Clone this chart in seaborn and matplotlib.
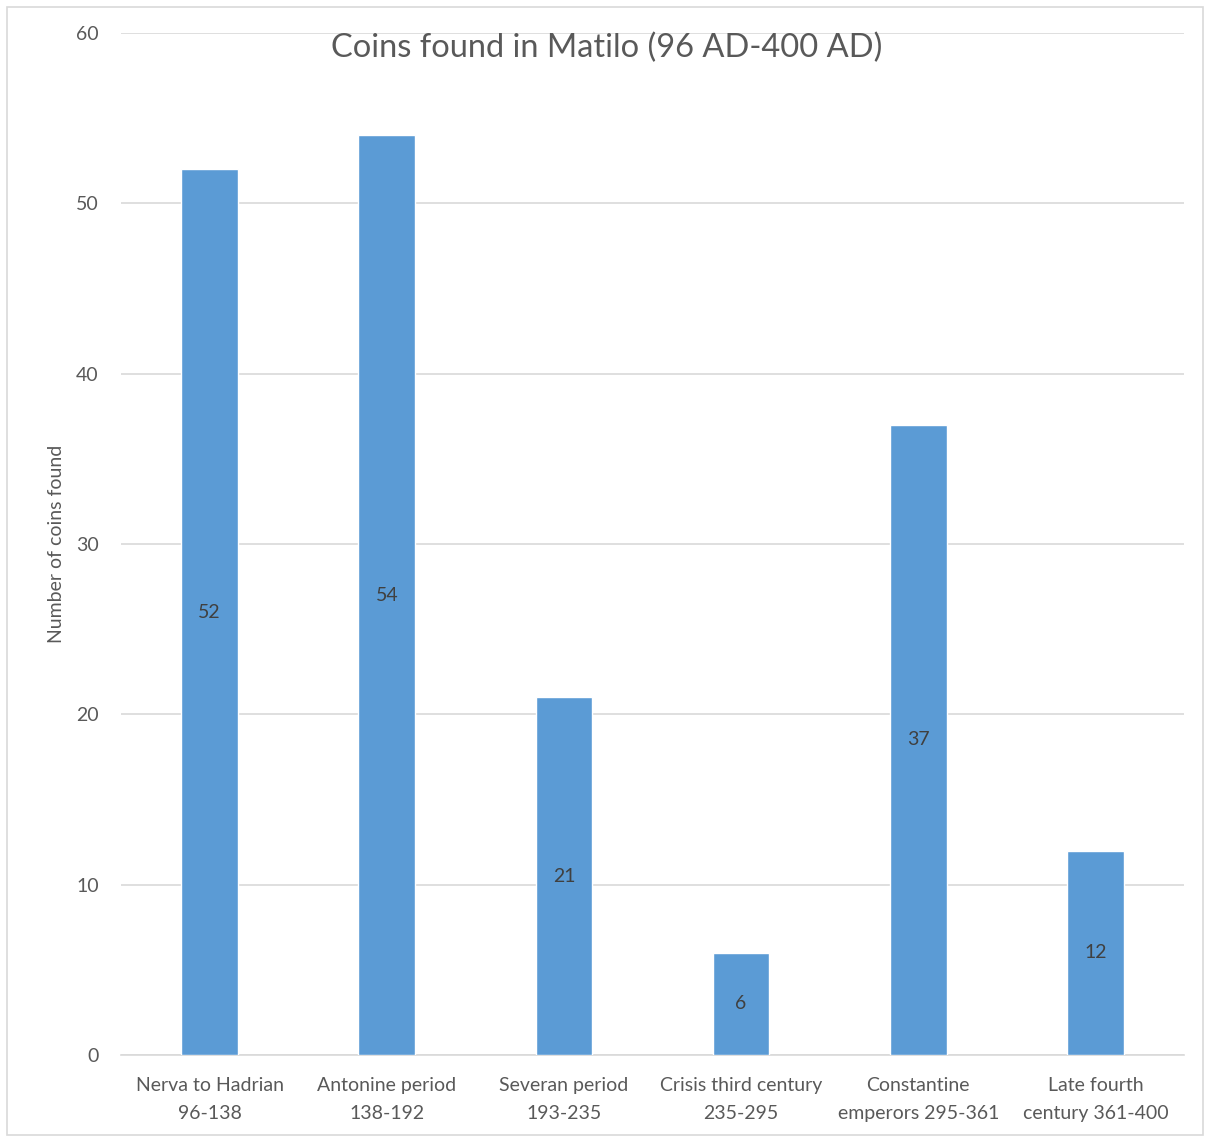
import matplotlib
matplotlib.use("Agg")
import matplotlib.pyplot as plt
import seaborn as sns
import pandas as pd
from matplotlib.patches import Rectangle

categories = ["Nerva to Hadrian\n96-138", "Antonine period\n138-192", "Severan period\n193-235",
              "Crisis third century\n235-295", "Constantine\nemperors 295-361", "Late fourth\ncentury 361-400"]
coins = [52, 54, 21, 6, 37, 12]
yticks = [0, 10, 20, 30, 40, 50, 60]

sns.set_theme(style="white")
plt.rcParams['font.family'] = ['Lato', 'DejaVu Sans']

df = pd.DataFrame({"period": categories, "coins": coins})

fig = plt.figure(figsize=(12.07, 11.37), dpi=100)
ax = fig.add_axes([121/1207, 82/1137, (1184-121)/1207, (1055-33)/1137])

sns.barplot(data=df, x="period", y="coins", color="#5B9BD5", saturation=1, width=0.32, ax=ax, zorder=3)

ax.set_ylim(0, 60)
ax.set_xlim(-0.5, 5.5)
ax.set_yticks(yticks)
ax.set_yticklabels([str(t) for t in yticks])
ax.yaxis.grid(True, color="#D9D9D9", linewidth=1.2, zorder=0)
ax.set_axisbelow(True)
for s in ["top", "right", "left"]:
    ax.spines[s].set_visible(False)
ax.spines["bottom"].set_color("#D9D9D9")
ax.spines["bottom"].set_linewidth(1.2)
ax.tick_params(axis="both", length=0, colors="#595959", labelsize=14)
ax.tick_params(axis="y", pad=16)
ax.tick_params(axis="x", pad=16)
for lbl in ax.get_xticklabels():
    lbl.set_linespacing(1.75)
ax.set_xlabel("")
ax.set_ylabel("Number of coins found", color="#595959", fontsize=14)
ax.yaxis.set_label_coords(-0.053, 0.5)

for i, v in enumerate(coins):
    ax.text(i, v / 2, str(v), ha="center", va="center", color="#404040", fontsize=14, zorder=4)

fig.text(607/1207, 1 - 48/1137, "Coins found in Matilo (96 AD-400 AD)", ha="center", va="center",
         color="#595959", fontsize=23.5)

fig.patches.append(Rectangle((7/1207, 2/1137), 1196/1207, 1128/1137, transform=fig.transFigure,
                             fill=False, edgecolor="#D9D9D9", linewidth=1.2))

fig.savefig("out.png", dpi=100)
